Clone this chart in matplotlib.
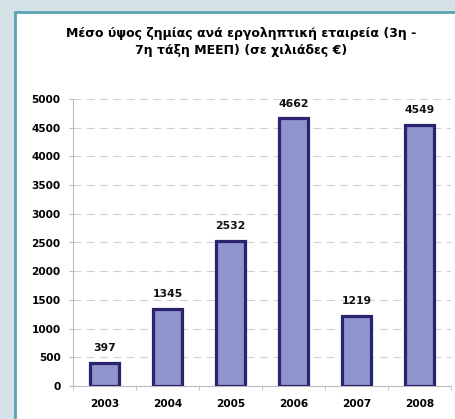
import matplotlib.pyplot as plt
from matplotlib.patches import Rectangle

years = ['2003', '2004', '2005', '2006', '2007', '2008']
losses = [397, 1345, 2532, 4662, 1219, 4549]
yticks = [0, 500, 1000, 1500, 2000, 2500, 3000, 3500, 4000, 4500, 5000]

fig = plt.figure(figsize=(4.55, 4.19), dpi=100)
fig.patch.set_facecolor('#d5e2e8')

# white panel with teal border (cut off at right/bottom like the original)
fig.patches.append(Rectangle((15 / 455, -0.05), 1.1, 1 - 12 / 419 + 0.05,
                             transform=fig.transFigure, facecolor='white',
                             edgecolor='#5aa3b0', linewidth=2, zorder=-1))

ax = fig.add_axes([73 / 455, 1 - 386 / 419, 378 / 455, 287 / 419])
ax.set_facecolor('none')
ax.set_zorder(1)

x = range(len(years))
ax.bar(x, losses, width=0.45, color='#8f94cc', edgecolor='#2a2370', linewidth=2.3, zorder=3)

for i, v in enumerate(losses):
    ax.annotate(str(v), (i, v), xytext=(0, 7), textcoords='offset points',
                ha='center', va='bottom', fontsize=7.8, fontweight='bold', color='#111111')

ax.set_xlim(-0.5, len(years) - 0.5)
ax.set_ylim(0, 5000)
ax.set_yticks(yticks)
ax.set_yticklabels([str(t) for t in yticks], fontsize=7.6, fontweight='bold')
ax.set_xticks(list(x))
ax.set_xticklabels(years, fontsize=7.6, fontweight='bold')
ax.set_xticks([i + 0.5 for i in range(-1, len(years))], minor=True)
ax.tick_params(axis='x', which='major', length=0, pad=9)
ax.tick_params(axis='x', which='minor', length=3, color='#bbbbbb')
ax.tick_params(axis='y', length=3, color='#bbbbbb', pad=6)

ax.yaxis.grid(True, linestyle=(0, (7, 5)), color='#d0d0d0', linewidth=0.8)
ax.set_axisbelow(True)
for s in ['top', 'right']:
    ax.spines[s].set_visible(False)
for s in ['left', 'bottom']:
    ax.spines[s].set_color('#bbbbbb')
    ax.spines[s].set_linewidth(0.8)

fig.text(241 / 455, 1 - 42 / 419,
         'Μέσο ύψος ζημίας ανά εργοληπτική εταιρεία (3η -\n7η τάξη ΜΕΕΠ) (σε χιλιάδες €)',
         ha='center', va='center', fontsize=9, fontweight='bold', linespacing=1.35)

fig.savefig('out.png', dpi=100, facecolor=fig.get_facecolor())
